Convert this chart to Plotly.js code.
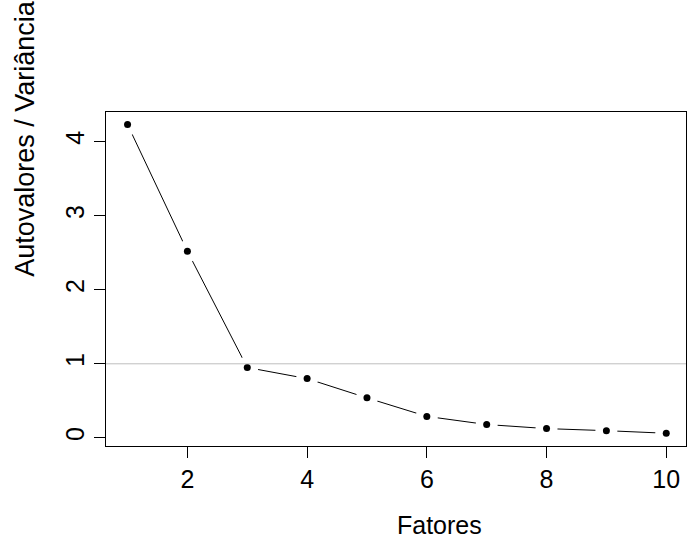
<!DOCTYPE html>
<html>
<head>
<meta charset="utf-8">
<script src="https://cdn.plot.ly/plotly-3.0.1.min.js"></script>
<style>html,body{margin:0;padding:0;background:#fff;}#chart{width:696px;height:536px;}</style>
</head>
<body>
<div id="chart"></div>
<script>
// Data (scree plot)
const fatores = [1, 2, 3, 4, 5, 6, 7, 8, 9, 10];
const autovalores = [4.23, 2.52, 0.95, 0.80, 0.54, 0.29, 0.18, 0.125, 0.097, 0.062];
const xTicks = [2, 4, 6, 8, 10];
const yTicks = [0, 1, 2, 3, 4];
const refValue = 1;
const xTitle = "Fatores";
const yTitle = "Autovalores / Variância explicada";

const FONT = "Liberation Sans, Arial, Helvetica, sans-serif";

const traces = [
  { // connecting line
    x: fatores, y: autovalores, type: "scatter", mode: "lines",
    line: {color: "#000", width: 1}, hoverinfo: "skip", showlegend: false
  },
  { // white halos to create R type="b" gaps
    x: fatores, y: autovalores, type: "scatter", mode: "markers",
    marker: {color: "#fff", size: 22, line: {width: 0}}, hoverinfo: "skip", showlegend: false,
    cliponaxis: false
  },
  { // points
    x: fatores, y: autovalores, type: "scatter", mode: "markers",
    marker: {color: "#000", size: 7, line: {width: 0}}, showlegend: false,
    cliponaxis: false
  }
];

const layout = {
  width: 696, height: 536,
  margin: {l: 106, r: 10, t: 112, b: 90, pad: 0},
  paper_bgcolor: "#fff", plot_bgcolor: "#fff",
  font: {family: FONT, size: 25, color: "#000"},
  showlegend: false,
  xaxis: {
    range: [0.64, 10.33], tickmode: "array", tickvals: xTicks, ticktext: xTicks.map(String),
    ticks: "outside", ticklen: 11, tickwidth: 1, tickcolor: "#000",
    showline: true, linecolor: "#000", linewidth: 1, mirror: true,
    showgrid: false, zeroline: false,
    tickfont: {family: FONT, size: 25, color: "#000"}
  },
  yaxis: {
    range: [-0.11, 4.40], tickmode: "array", tickvals: yTicks, ticktext: yTicks.map(String),
    ticks: "outside", ticklen: 11, tickwidth: 1, tickcolor: "#000", tickangle: -90,
    showline: true, linecolor: "#000", linewidth: 1, mirror: true,
    showgrid: false, zeroline: false,
    tickfont: {family: FONT, size: 25, color: "#000"}
  },
  shapes: [{
    type: "line", xref: "paper", x0: 0, x1: 1, yref: "y", y0: refValue, y1: refValue,
    line: {color: "#bebebe", width: 1}, layer: "above"
  }],
  annotations: [
    {text: xTitle, xref: "paper", yref: "paper", x: 0.575, y: -0.19,
     xanchor: "center", yanchor: "top", showarrow: false,
     font: {family: FONT, size: 25, color: "#000"}},
    {text: yTitle, xref: "paper", yref: "paper", x: -0.14, y: 0.50,
     xanchor: "center", yanchor: "bottom", textangle: -90, showarrow: false,
     font: {family: FONT, size: 27, color: "#000"}}
  ]
};

Plotly.newPlot("chart", traces, layout, {staticPlot: true, displayModeBar: false});
</script>
</body>
</html>
